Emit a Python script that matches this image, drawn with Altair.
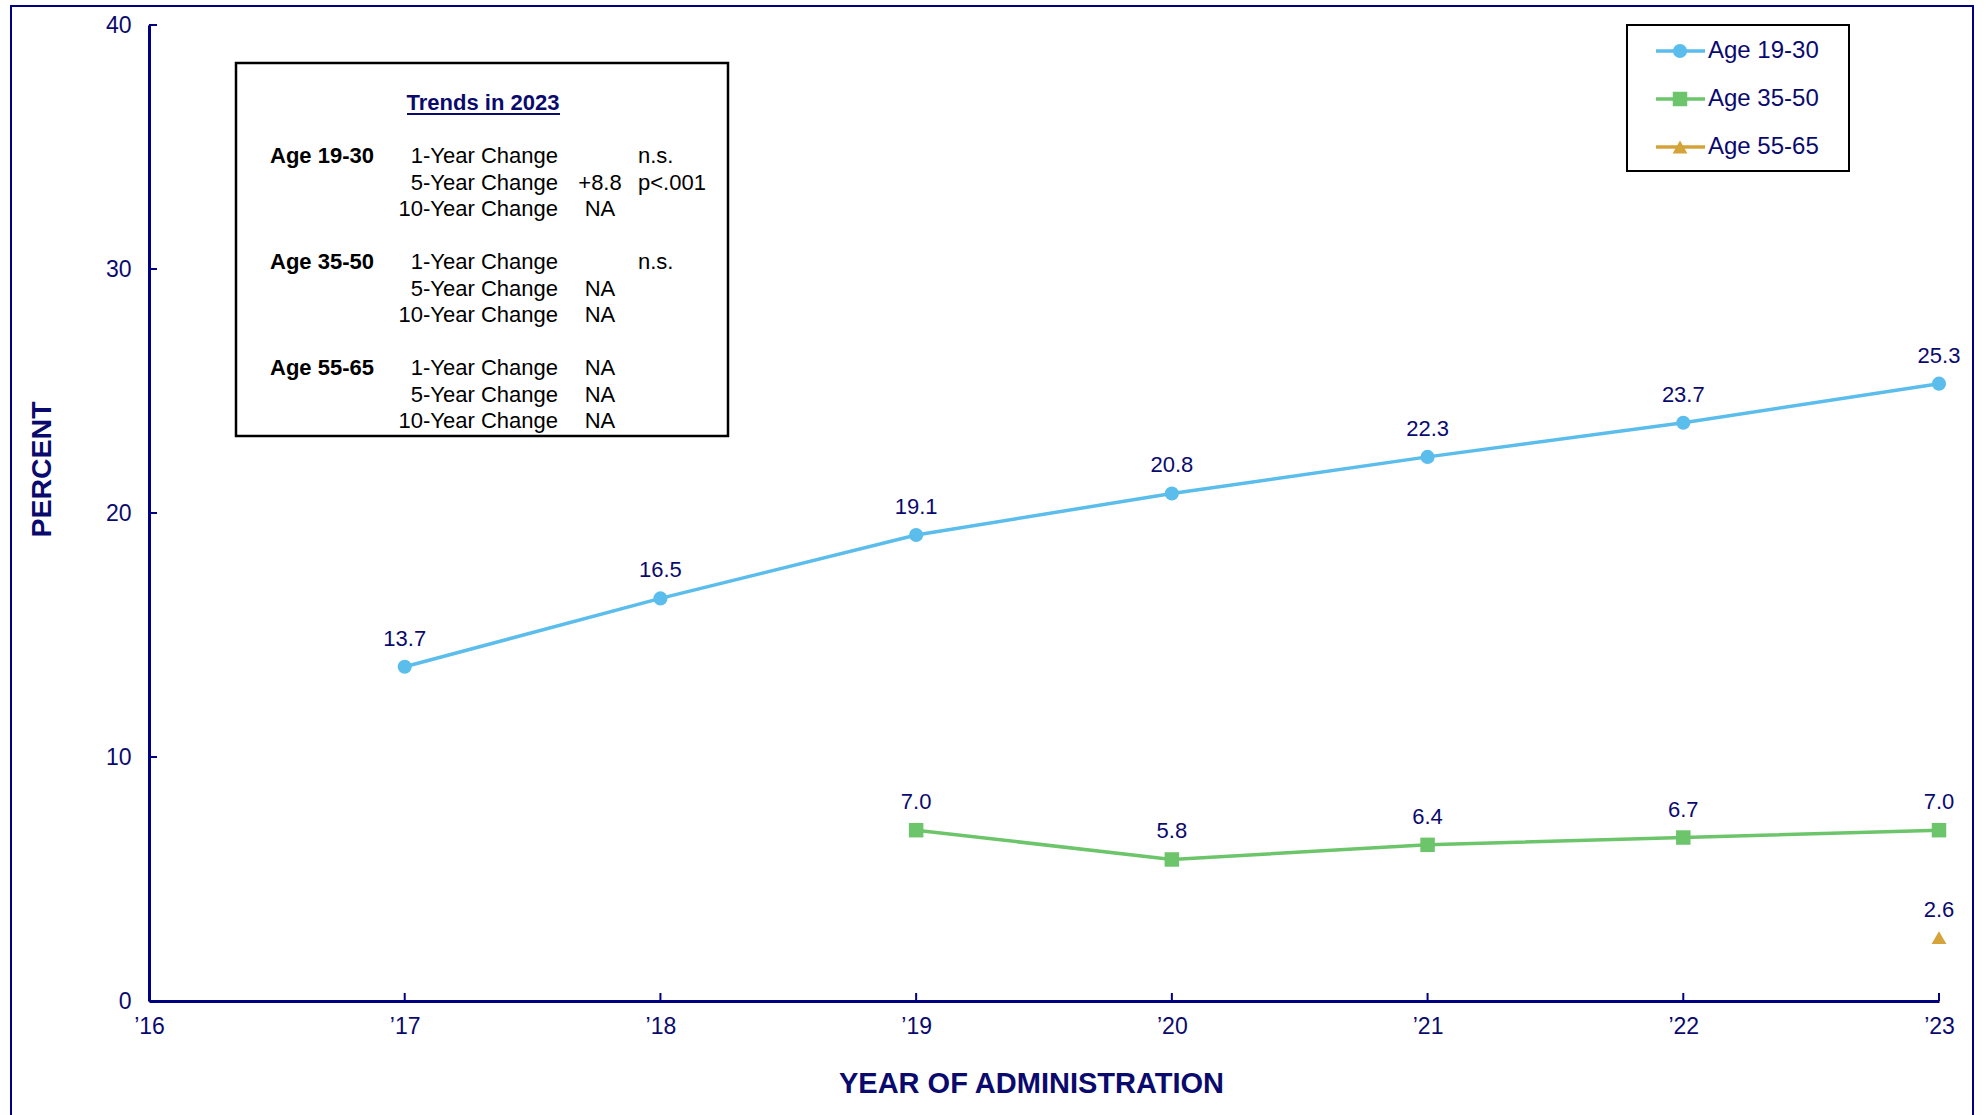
import altair as alt
import pandas as pd

# ---------------- data ----------------
series_names = ["Age 19-30", "Age 35-50", "Age 55-65"]
series_colors = ["#5BBDEB", "#6CC56A", "#D4A33A"]
series_shapes = ["circle", "square", "triangle-up"]

years_19_30 = [2017, 2018, 2019, 2020, 2021, 2022, 2023]
values_19_30 = [13.7, 16.5, 19.1, 20.8, 22.3, 23.7, 25.3]
years_35_50 = [2019, 2020, 2021, 2022, 2023]
values_35_50 = [7.0, 5.8, 6.4, 6.7, 7.0]
years_55_65 = [2023]
values_55_65 = [2.6]

x_tick_values = [2016, 2017, 2018, 2019, 2020, 2021, 2022, 2023]
y_tick_values = [0, 10, 20, 30, 40]

trend_title = "Trends in 2023"
trend_groups = ["Age 19-30", "Age 35-50", "Age 55-65"]
trend_change_labels = ["1-Year Change", "5-Year Change", "10-Year Change"]
trend_values = [["", "+8.8", "NA"], ["", "NA", "NA"], ["NA", "NA", "NA"]]
trend_sig = [["n.s.", "p<.001", ""], ["n.s.", "", ""], ["", "", ""]]

# ---------------- tables ----------------
rows = []
for name, ys_, vs in [(series_names[0], years_19_30, values_19_30),
                      (series_names[1], years_35_50, values_35_50),
                      (series_names[2], years_55_65, values_55_65)]:
    for y, v in zip(ys_, vs):
        rows.append({"series": name, "year": y, "value": v})
df = pd.DataFrame(rows)

box_rows = []
for gi, g in enumerate(trend_groups):
    for k, lab in enumerate(trend_change_labels):
        box_rows.append({
            "line": gi * 4 + 2 + k,
            "group": g if k == 0 else "",
            "label": lab,
            "val": trend_values[gi][k],
            "sig": trend_sig[gi][k],
        })
box_df = pd.DataFrame(box_rows)
title_df = pd.DataFrame([{"line": 0, "t": trend_title}])
legend_df = pd.DataFrame([{"series": n, "idx": i} for i, n in enumerate(series_names)])
xt_df = pd.DataFrame({"v": x_tick_values})
yt_df = pd.DataFrame({"v": y_tick_values})
one = pd.DataFrame({"a": [0]})

# ---------------- styling ----------------
FONT = "Liberation Sans"
NAVY = "#000080"
TXT = "#0a0a6e"
W, H = 1790, 976

color_scale = alt.Scale(domain=series_names, range=series_colors)
shape_scale = alt.Scale(domain=series_names, range=series_shapes)
size_scale = alt.Scale(domain=series_names, range=[200, 220, 280])

x_axis = alt.Axis(values=x_tick_values, title="YEAR OF ADMINISTRATION",
                  labelExpr="'\u2019' + slice(toString(datum.value), 2)",
                  grid=False, ticks=False, domainColor=NAVY, domainWidth=3,
                  labelColor=TXT, labelFont=FONT, labelFontSize=23, labelPadding=14,
                  labelFlush=False, labelOverlap=False,
                  titleFont=FONT, titleFontSize=29, titleFontWeight="bold", titleColor=TXT,
                  titleX=882, titleY=82, titleBaseline="middle", titleAlign="center")
y_axis = alt.Axis(values=y_tick_values, title="PERCENT",
                  grid=False, ticks=False, domainColor=NAVY, domainWidth=3,
                  labelColor=TXT, labelFont=FONT, labelFontSize=23, labelPadding=18,
                  labelFlush=False, labelOverlap=False,
                  titleFont=FONT, titleFontSize=28.5, titleFontWeight="bold", titleColor=TXT,
                  titleX=-108, titleY=444, titleAngle=-90, titleBaseline="middle", titleAlign="center")

xs = alt.Scale(domain=[2016, 2023], nice=False, zero=False)
ys = alt.Scale(domain=[0, 40], nice=False)
X = alt.X("year:Q", scale=xs, axis=x_axis)
Y = alt.Y("value:Q", scale=ys, axis=y_axis)

# ---------------- main layers ----------------
frame = alt.Chart(one).mark_rect(fillOpacity=0, stroke=NAVY, strokeWidth=2).encode(
    x=alt.value(-138), x2=alt.value(1824), y=alt.value(-19), y2=alt.value(1110))

lines = alt.Chart(df).mark_line(strokeWidth=3.5).encode(
    x=X, y=Y, color=alt.Color("series:N", scale=color_scale, legend=None))

points = alt.Chart(df).mark_point(filled=True, opacity=1).encode(
    x=X, y=Y,
    color=alt.Color("series:N", scale=color_scale, legend=None),
    shape=alt.Shape("series:N", scale=shape_scale, legend=None),
    size=alt.Size("series:N", scale=size_scale, legend=None))

labels = alt.Chart(df).mark_text(dy=-28, font=FONT, fontSize=22, color=TXT).encode(
    x=X, y=Y, text=alt.Text("value:Q", format=".1f"))

yticks = alt.Chart(yt_df).mark_rule(color=NAVY, strokeWidth=2).encode(
    y=alt.Y("v:Q", scale=ys, axis=y_axis), x=alt.value(0), x2=alt.value(8))
xticks = alt.Chart(xt_df).mark_rule(color=NAVY, strokeWidth=2).encode(
    x=alt.X("v:Q", scale=xs, axis=x_axis), y=alt.value(H), y2=alt.value(H - 8))

main = alt.layer(frame, lines, points, labels, yticks, xticks)

# ---------------- trends box ----------------
by = alt.Y("line:Q", scale=alt.Scale(domain=[0, 12], range=[78, 396]), axis=None)
box_rect = alt.Chart(one).mark_rect(fill="white", stroke="black", strokeWidth=2.5).encode(
    x=alt.value(87), x2=alt.value(579), y=alt.value(38), y2=alt.value(411))
box_title = alt.Chart(title_df).mark_text(font=FONT, fontSize=22, fontWeight="bold",
                                          color=TXT, align="center", baseline="middle").encode(
    x=alt.value(334), y=by, text="t:N")
underline = alt.Chart(one).mark_rule(color=TXT, strokeWidth=2).encode(
    x=alt.value(258), x2=alt.value(411), y=alt.value(89))
t_group = alt.Chart(box_df).mark_text(font=FONT, fontSize=22, fontWeight="bold", color="black",
                                      align="left", baseline="middle").encode(
    x=alt.value(121), y=by, text="group:N")
t_label = alt.Chart(box_df).mark_text(font=FONT, fontSize=22, color="black",
                                      align="right", baseline="middle").encode(
    x=alt.value(409), y=by, text="label:N")
t_val = alt.Chart(box_df).mark_text(font=FONT, fontSize=22, color="black",
                                    align="center", baseline="middle").encode(
    x=alt.value(451), y=by, text="val:N")
t_sig = alt.Chart(box_df).mark_text(font=FONT, fontSize=22, color="black",
                                    align="left", baseline="middle").encode(
    x=alt.value(489), y=by, text="sig:N")
box = alt.layer(box_rect, box_title, underline, t_group, t_label, t_val, t_sig)

# ---------------- legend ----------------
ly = alt.Y("idx:Q", scale=alt.Scale(domain=[0, 2], range=[26, 122]), axis=None)
leg_rect = alt.Chart(one).mark_rect(fill="white", stroke="black", strokeWidth=2).encode(
    x=alt.value(1478), x2=alt.value(1700), y=alt.value(0), y2=alt.value(146))
leg_line = alt.Chart(legend_df).mark_rule(strokeWidth=3.5).encode(
    y=ly, x=alt.value(1507), x2=alt.value(1556),
    color=alt.Color("series:N", scale=color_scale, legend=None))
leg_pt = alt.Chart(legend_df).mark_point(filled=True, opacity=1).encode(
    y=ly, x=alt.value(1531),
    color=alt.Color("series:N", scale=color_scale, legend=None),
    shape=alt.Shape("series:N", scale=shape_scale, legend=None),
    size=alt.Size("series:N", scale=size_scale, legend=None))
leg_txt = alt.Chart(legend_df).mark_text(font=FONT, fontSize=24, color=TXT,
                                         align="left", baseline="middle").encode(
    y=ly, x=alt.value(1559), text="series:N")
legend = alt.layer(leg_rect, leg_line, leg_pt, leg_txt)

chart = alt.layer(main, box, legend).resolve_scale(y="independent").properties(
    width=W, height=H,
    autosize=alt.AutoSizeParams(type="none"),
    padding={"left": 149, "top": 25, "right": 47, "bottom": 114},
    background="white",
).configure_view(stroke=None)

chart.save("out.html", embed_options={"renderer": "svg", "actions": False})
